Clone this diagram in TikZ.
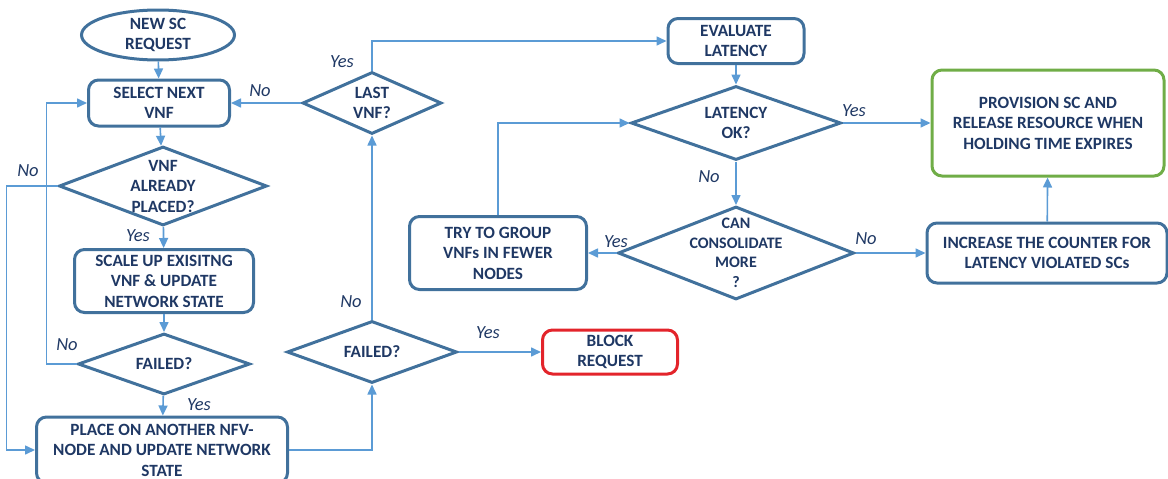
\documentclass[tikz,border=0pt]{standalone}
\usepackage{fontspec}
\setmainfont{Carlito}
\usetikzlibrary{arrows.meta,shapes.geometric}
\definecolor{edge}{HTML}{41719C}
\definecolor{flow}{HTML}{5B9BD5}
\definecolor{ink}{HTML}{1F3864}
\definecolor{okgreen}{HTML}{70AD47}
\definecolor{blockred}{HTML}{E3242B}

\begin{document}
\begin{tikzpicture}[x=1pt,y=-1pt,
  txt/.style={font=\fontsize{17.2}{20.5}\selectfont\bfseries,text=ink,align=center,inner sep=0pt},
  procbox/.style={txt,draw=edge,line width=3pt,rounded corners=10pt},
  decision/.style={diamond,draw=edge,line width=3pt,inner sep=0pt},
  flowline/.style={flow,line width=1.6pt,-{Triangle[length=10pt,width=9pt]}},
  tag/.style={font=\fontsize{18.5}{20}\selectfont\itshape,text=ink}]
  \useasboundingbox (0,0) rectangle (1168,479);

  % Placement loop
  \node[txt,ellipse,draw=edge,line width=3pt,minimum width=153pt,minimum height=50pt,inner sep=-2pt] (newsc) at (158,35) {NEW SC\\REQUEST};
  \node[procbox,minimum width=141pt,minimum height=46pt] (select) at (159,103) {SELECT NEXT\\VNF};
  \node[decision,minimum width=208pt,minimum height=79pt] (placed) at (163,186) {};
  \node[txt] at (placed) {VNF\\ALREADY\\PLACED?};
  \node[procbox,minimum width=179pt,minimum height=63pt] (scale) at (164,281) {SCALE UP EXISITNG\\VNF \& UPDATE\\NETWORK STATE};
  \node[decision,minimum width=172pt,minimum height=61pt] (failA) at (164,364) {};
  \node[txt] at (failA) {FAILED?};
  \node[procbox,minimum width=251pt,minimum height=66pt] (place) at (162,450) {PLACE ON ANOTHER NFV-\\NODE AND UPDATE NETWORK\\STATE};

  % Middle column
  \node[decision,minimum width=170pt,minimum height=62pt] (failB) at (372,352) {};
  \node[txt] at (failB) {FAILED?};
  \node[decision,minimum width=139pt,minimum height=62pt] (last) at (372,103) {};
  \node[txt] at (last) {LAST\\VNF?};
  \node[procbox,draw=blockred,minimum width=135pt,minimum height=44pt] (block) at (610,352) {BLOCK\\REQUEST};

  % Latency check
  \node[procbox,minimum width=136pt,minimum height=45pt] (eval) at (736,41) {EVALUATE\\LATENCY};
  \node[decision,minimum width=210pt,minimum height=74pt] (latok) at (736,123) {};
  \node[txt] at (latok) {LATENCY\\OK?};
  \node[decision,minimum width=236pt,minimum height=93pt] (consol) at (736,253) {};
  \node[txt,font=\fontsize{16}{19.5}\selectfont\bfseries] at (consol) {CAN\\CONSOLIDATE\\MORE\\?};
  \node[procbox,minimum width=177pt,minimum height=73pt] (group) at (498,253) {TRY TO GROUP\\VNFs IN FEWER\\NODES};
  \node[procbox,draw=okgreen,minimum width=232pt,minimum height=106pt] (provision) at (1048,123) {PROVISION SC AND\\RELEASE RESOURCE WHEN\\HOLDING TIME EXPIRES};
  \node[procbox,minimum width=240pt,minimum height=60pt] (increase) at (1047,253) {INCREASE THE COUNTER FOR\\LATENCY VIOLATED SCs};

  % Connectors
  \draw[flowline] (newsc) -- (select);
  \draw[flowline] (select) -- (placed);
  \draw[flowline] (placed) -- (scale);
  \draw[flowline] (scale) -- (failA);
  \draw[flowline] (failA) -- (place);
  \draw[flowline] (placed.west) -- ([xshift=-51pt]placed.west) |- (place.west);
  \draw[flowline] (failA.west) -- ([xshift=-30pt]failA.west) |- (select.west);
  \draw[flowline] (place.east) -| (failB.south);
  \draw[flowline] (failB.north) -- (last.south);
  \draw[flowline] (failB.east) -- (block.west);
  \draw[flowline] (last.west) -- (select.east);
  \draw[flowline] (last.north) |- (eval.west);
  \draw[flowline] (eval) -- (latok);
  \draw[flowline] (latok.east) -- (provision.west);
  \draw[flowline] (latok.south) -- (consol.north);
  \draw[flowline] (consol.west) -- (group.east);
  \draw[flowline] (group.north) |- (latok.west);
  \draw[flowline] (consol.east) -- (increase.west);
  \draw[flowline] (increase) -- (provision);

  % Branch labels
  \node[tag] (noPlaced) at (28,171) {No};
  \node[tag] (yesPlaced) at (138,236) {Yes};
  \node[tag] (noFailA) at (67,345) {No};
  \node[tag] (yesFailA) at (199,405) {Yes};
  \node[tag] (noFailB) at (351,302) {No};
  \node[tag] (yesFailB) at (488,333) {Yes};
  \node[tag] (noLast) at (260,91) {No};
  \node[tag] (yesLast) at (342,62) {Yes};
  \node[tag] (yesLat) at (854,111) {Yes};
  \node[tag] (noLat) at (709,177) {No};
  \node[tag] (yesCons) at (616,242) {Yes};
  \node[tag] (noCons) at (866,239) {No};
\end{tikzpicture}
\end{document}
